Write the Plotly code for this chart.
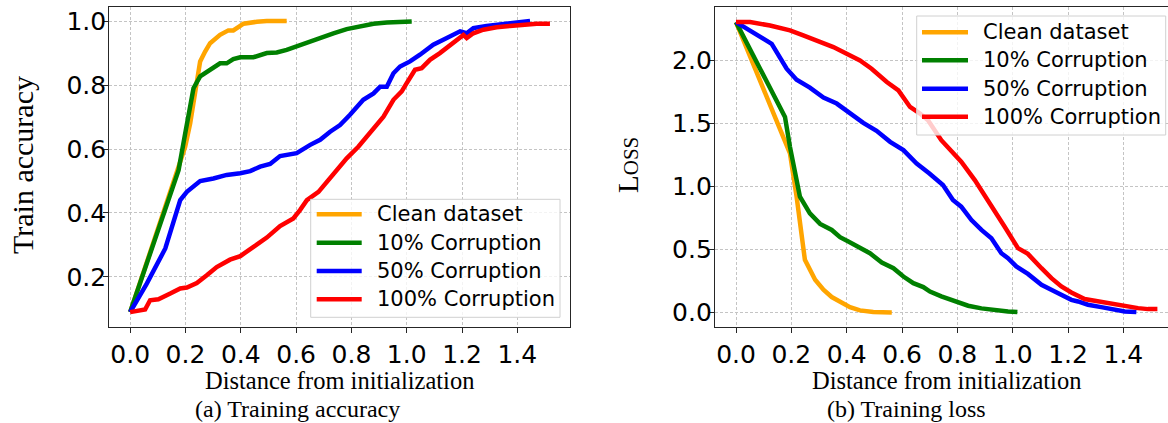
import plotly.graph_objects as go

W, H = 1168, 423

# ---------------- data: (a) training accuracy ----------------
acc_clean_x = [0, 0.181, 0.199, 0.217, 0.235, 0.253, 0.271, 0.289, 0.325, 0.355, 0.373, 0.410, 0.458, 0.494, 0.566]
acc_clean_y = [0.090, 0.555, 0.607, 0.680, 0.785, 0.874, 0.905, 0.931, 0.957, 0.971, 0.971, 0.992, 0.998, 1.0, 1.0]

acc_c10_x = [0, 0.175, 0.199, 0.217, 0.229, 0.253, 0.277, 0.301, 0.325, 0.349, 0.373, 0.398, 0.446, 0.494, 0.530,
             0.566, 0.602, 0.639, 0.675, 0.699, 0.735, 0.783, 0.831, 0.880, 0.928, 0.976, 1.018]
acc_c10_y = [0.090, 0.534, 0.649, 0.733, 0.790, 0.827, 0.842, 0.853, 0.868, 0.868, 0.881, 0.887, 0.887, 0.900, 0.902,
             0.910, 0.921, 0.936, 0.947, 0.952, 0.962, 0.975, 0.985, 0.992, 0.996, 0.999, 0.999]

acc_c50_x = [0, 0.060, 0.127, 0.181, 0.205, 0.253, 0.301, 0.349, 0.398, 0.434, 0.470, 0.506, 0.542, 0.602, 0.651,
             0.687, 0.723, 0.759, 0.795, 0.843, 0.880, 0.904, 0.928, 0.952, 0.976, 1.012, 1.048, 1.072, 1.096,
             1.145, 1.193, 1.217, 1.241, 1.289, 1.337, 1.386, 1.446]
acc_c50_y = [0.090, 0.179, 0.289, 0.440, 0.466, 0.500, 0.508, 0.519, 0.524, 0.531, 0.545, 0.553, 0.578, 0.587, 0.613,
             0.629, 0.654, 0.675, 0.707, 0.754, 0.774, 0.795, 0.795, 0.837, 0.858, 0.874, 0.895, 0.910, 0.926,
             0.947, 0.968, 0.962, 0.978, 0.985, 0.989, 0.994, 1.0]

acc_c100_x = [0, 0.054, 0.072, 0.102, 0.145, 0.181, 0.205, 0.241, 0.277, 0.313, 0.361, 0.398, 0.446, 0.494, 0.542,
              0.590, 0.614, 0.639, 0.681, 0.711, 0.747, 0.783, 0.825, 0.867, 0.916, 0.952, 0.982, 1.000, 1.030,
              1.054, 1.084, 1.120, 1.157, 1.181, 1.205, 1.217, 1.241, 1.277, 1.325, 1.373, 1.422, 1.470, 1.518]
acc_c100_y = [0.090, 0.098, 0.127, 0.130, 0.148, 0.164, 0.167, 0.181, 0.205, 0.231, 0.254, 0.265, 0.294, 0.323, 0.359,
              0.383, 0.409, 0.440, 0.466, 0.498, 0.534, 0.571, 0.607, 0.649, 0.701, 0.754, 0.780, 0.806, 0.848,
              0.853, 0.879, 0.900, 0.926, 0.942, 0.957, 0.947, 0.962, 0.973, 0.981, 0.985, 0.989, 0.992, 0.992]

# ---------------- data: (b) training loss ----------------
loss_clean_x = [0, 0.099, 0.195, 0.219, 0.249, 0.286, 0.316, 0.346, 0.376, 0.412, 0.448, 0.496, 0.563]
loss_clean_y = [2.306, 1.780, 1.263, 0.919, 0.417, 0.259, 0.180, 0.122, 0.087, 0.042, 0.016, 0.003, 0.0]

loss_c10_x = [0, 0.177, 0.195, 0.231, 0.267, 0.304, 0.346, 0.376, 0.406, 0.448, 0.484, 0.527, 0.569, 0.605, 0.641,
              0.677, 0.701, 0.742, 0.790, 0.839, 0.887, 0.935, 0.983, 1.017]
loss_c10_y = [2.306, 1.553, 1.315, 0.919, 0.787, 0.703, 0.655, 0.597, 0.563, 0.510, 0.470, 0.396, 0.351, 0.285, 0.232,
              0.201, 0.165, 0.127, 0.087, 0.053, 0.032, 0.016, 0.008, 0.003]

loss_c50_x = [0, 0.129, 0.183, 0.219, 0.267, 0.316, 0.364, 0.412, 0.460, 0.508, 0.557, 0.605, 0.653, 0.698, 0.748,
              0.784, 0.814, 0.851, 0.887, 0.923, 0.959, 0.983, 1.013, 1.055, 1.080, 1.104, 1.152, 1.188, 1.212,
              1.236, 1.272, 1.320, 1.369, 1.405, 1.447]
loss_c50_y = [2.306, 2.134, 1.936, 1.849, 1.786, 1.706, 1.659, 1.579, 1.506, 1.442, 1.355, 1.289, 1.183, 1.105, 1.012,
              0.893, 0.840, 0.734, 0.655, 0.589, 0.470, 0.431, 0.365, 0.306, 0.264, 0.219, 0.166, 0.127, 0.100,
              0.087, 0.061, 0.042, 0.021, 0.008, 0.003]

loss_c100_x = [0, 0.051, 0.123, 0.195, 0.243, 0.292, 0.352, 0.400, 0.448, 0.490, 0.545, 0.587, 0.629, 0.665, 0.694,
               0.742, 0.814, 0.863, 0.911, 0.971, 1.019, 1.055, 1.104, 1.140, 1.176, 1.212, 1.260, 1.308, 1.357,
               1.405, 1.453, 1.489, 1.523]
loss_c100_y = [2.306, 2.306, 2.279, 2.240, 2.200, 2.161, 2.108, 2.055, 2.002, 1.936, 1.830, 1.764, 1.632, 1.580, 1.527,
               1.368, 1.197, 1.051, 0.893, 0.681, 0.510, 0.465, 0.351, 0.272, 0.206, 0.158, 0.106, 0.087, 0.069,
               0.048, 0.034, 0.026, 0.026]

series_names = ["Clean dataset", "10% Corruption", "50% Corruption", "100% Corruption"]
series_colors = ["#FFA500", "#008000", "#0000FF", "#FF0000"]

x_ticks = [0.0, 0.2, 0.4, 0.6, 0.8, 1.0, 1.2, 1.4]
acc_ticks = [0.2, 0.4, 0.6, 0.8, 1.0]
loss_ticks = [0.0, 0.5, 1.0, 1.5, 2.0]

# ---------------- figure ----------------
def px(x):
    return x / W

def py(y):
    return 1 - y / H

fig = go.Figure()
acc = [(acc_clean_x, acc_clean_y), (acc_c10_x, acc_c10_y), (acc_c50_x, acc_c50_y), (acc_c100_x, acc_c100_y)]
loss = [(loss_clean_x, loss_clean_y), (loss_c10_x, loss_c10_y), (loss_c50_x, loss_c50_y), (loss_c100_x, loss_c100_y)]
for (xs, ys), name, col in zip(acc, series_names, series_colors):
    fig.add_trace(go.Scatter(x=xs, y=ys, mode="lines", name=name, line=dict(color=col, width=4.5),
                             xaxis="x", yaxis="y", showlegend=False))
for (xs, ys), name, col in zip(loss, series_names, series_colors):
    fig.add_trace(go.Scatter(x=xs, y=ys, mode="lines", name=name, line=dict(color=col, width=4.5),
                             xaxis="x2", yaxis="y2", showlegend=False))

TICKFONT = dict(family="DejaVu Sans", size=25, color="black")
SERIF = "Liberation Serif"
FRAME = "#262626"
GRID = "#c4c4c4"

common_ax = dict(showgrid=True, gridcolor=GRID, griddash="3px,2px", gridwidth=1, zeroline=False,
                 showline=True, linecolor=FRAME, linewidth=1.3, ticks="outside", ticklen=5, tickwidth=1.2,
                 tickcolor=FRAME, tickfont=TICKFONT)

ydom = [py(327), py(6.5)]
fig.update_layout(
    width=W, height=H, margin=dict(l=0, r=0, t=0, b=0),
    paper_bgcolor="white", plot_bgcolor="white", showlegend=False,
    xaxis=dict(domain=[px(109.3), px(570)], range=[-0.0755, 1.5905], tickvals=x_ticks,
               ticktext=[f"{t:.1f}" for t in x_ticks], mirror=True, anchor="y", **common_ax),
    yaxis=dict(domain=ydom, range=[0.0434, 1.0457], tickvals=acc_ticks, ticklabelstandoff=-8,
               ticktext=[f"{t:.1f}" for t in acc_ticks], mirror=True, anchor="x", **common_ax),
    xaxis2=dict(domain=[px(715), 1.0], range=[-0.0759, 1.5613], tickvals=x_ticks,
                ticktext=[f"{t:.1f}" for t in x_ticks], mirror=True, anchor="y2", **common_ax),
    yaxis2=dict(domain=ydom, range=[-0.116, 2.43], tickvals=loss_ticks, ticklabelstandoff=-8,
                ticktext=[f"{t:.1f}" for t in loss_ticks], mirror=False, anchor="x2", **common_ax),
)

annotations = []
shapes = []

def text(x, y, s, size, family=SERIF, angle=0, xanchor="center"):
    annotations.append(dict(x=px(x), y=py(y), xref="paper", yref="paper", text=s, showarrow=False,
                            font=dict(family=family, size=size, color="black"), textangle=angle,
                            xanchor=xanchor, yanchor="middle"))

# axis titles and captions
text(339, 380, "Distance from initialization", 24.5)
text(946, 380, "Distance from initialization", 24.5)
text(297, 408.5, "(a) Training accuracy", 24)
text(906, 408.5, "(b) Training loss", 24)
text(22, 165, "Train accuracy", 30, angle=-90)
text(628, 165, "L<span style='font-size:21px'>OSS</span>", 29, angle=-90)

# legends (drawn as overlays)
def legend(x0, y0, x1, y1, rows_y, line_x0, line_x1, text_x):
    shapes.append(dict(type="rect", xref="paper", yref="paper", x0=px(x0), x1=px(x1), y0=py(y1), y1=py(y0),
                       line=dict(color="#d0d0d0", width=1), fillcolor="rgba(255,255,255,0.8)", layer="above"))
    for ry, name, col in zip(rows_y, series_names, series_colors):
        shapes.append(dict(type="line", xref="paper", yref="paper", x0=px(line_x0), x1=px(line_x1),
                           y0=py(ry), y1=py(ry), line=dict(color=col, width=4.5), layer="above"))
        text(text_x, ry, name, 21, family="DejaVu Sans", xanchor="left")

legend(310.7, 199.3, 560, 317.3, [214.3, 242.7, 271.0, 299.3], 316.7, 361.7, 375)
legend(916.7, 16, 1165.7, 135, [32.3, 60.3, 88.7, 116.7], 922, 968, 980.5)

fig.update_layout(annotations=annotations, shapes=shapes)
fig.write_html("out.html", config={"displayModeBar": False},
               post_script="document.body.style.margin='0';document.body.style.overflow='hidden';")
